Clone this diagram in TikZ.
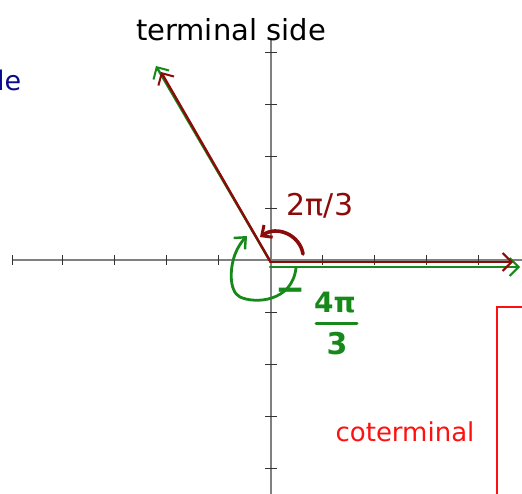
\documentclass[tikz,border=0pt]{standalone}
\usepackage{fontspec}
\setmainfont{DejaVu Sans}
\usetikzlibrary{arrows.meta}
\definecolor{dred}{HTML}{8B0A0A}
\definecolor{dgreen}{HTML}{17891A}
\definecolor{hred}{HTML}{FF1010}
\definecolor{hblue}{HTML}{0A0A90}
\definecolor{axgray}{HTML}{808080}
\tikzset{
  axis/.style={axgray, line width=1.2pt},
  tick/.style={black!80, line width=0.8pt},
  redray/.style={dred, line width=2.4pt, line cap=round, -{Straight Barb[length=9pt,width=18pt,line width=2pt]}},
  greenray/.style={dgreen, line width=2.4pt, line cap=round, -{Straight Barb[length=9pt,width=18pt,line width=2pt]}},
  lbl/.style={inner sep=0pt, anchor=center},
}
\begin{document}
\begin{tikzpicture}[x=1pt,y=-1pt]
\useasboundingbox (0,0) rectangle (522,494);
% axes
\coordinate (O) at (270,261);
\coordinate (xl) at (12,260);
\coordinate (xr) at (522,260);
\coordinate (yt) at (271,40);
\coordinate (yb) at (271,494);
\draw[axis] (xl) -- (xr);
\draw[axis] (yt) -- (yb);
\foreach \x in {12,62,114,166,218,322,374,426,478}
  \draw[tick] (\x,255) -- (\x,265);
\foreach \y in {52,104,156,208,312,364,416,468}
  \draw[tick] (265,\y) -- (277,\y);
% terminal side rays
\coordinate (tg) at (156,66);
\coordinate (tr) at (161,72);
\coordinate (hg) at (520,267);
\coordinate (hr) at (513,262);
\draw[greenray] (O) -- (tg);
\draw[redray] (O) -- (tr);
\draw[greenray] ([yshift=-6pt]O) -- (hg);
\draw[redray] ([yshift=-1pt]O) -- (hr);
% red arc 2pi/3
\coordinate (ra) at (303,254);
\coordinate (rb) at (260,237);
\draw[dred, line width=3.6pt, line cap=round, -{Straight Barb[length=8pt,width=15pt,line width=3pt]}]
  (ra) .. controls (300,235) and (277,225) .. (rb);
% green arc -4pi/3
\coordinate (ga) at (296,268);
\coordinate (gb) at (247,236);
\draw[dgreen, line width=2.8pt, line cap=round, -{Straight Barb[length=9pt,width=16pt,line width=2.4pt]}]
  (ga) .. controls (292,302) and (255,304) .. (240,297)
  .. controls (228,291) and (230,265) .. (236,252)
  .. controls (239,245) and (243,240) .. (gb);
% labels
\node[lbl, font=\fontsize{29}{32}\selectfont] (term) at (231,30) {terminal side};
\node[lbl, dred, font=\fontsize{30}{34}\selectfont] (two) at (320,206) {2π/3};
\node[lbl, dgreen, font=\fontsize{36}{38}\selectfont\bfseries] (neg) at (291,295) {−};
\node[lbl, dgreen, font=\fontsize{28}{30}\selectfont\bfseries] (num) at (335,303) {4π};
\coordinate (fl) at (316,323);
\coordinate (fr) at (357,323);
\draw[dgreen, line width=3pt, line cap=round] (fl) -- (fr);
\node[lbl, dgreen, font=\fontsize{30}{32}\selectfont\bfseries] (den) at (337,344) {3};
\node[lbl, hred, font=\fontsize{26}{30}\selectfont] (cot) at (405,432) {coterminal};
\node[lbl, hblue, font=\fontsize{27}{30}\selectfont, anchor=west] (le) at (-3,80) {le};
% red box
\coordinate (b1) at (497,494);
\coordinate (b2) at (497,307);
\coordinate (b3) at (522,307);
\draw[hred, line width=2pt] (b1) -- (b2) -- (b3);
\end{tikzpicture}
\end{document}
